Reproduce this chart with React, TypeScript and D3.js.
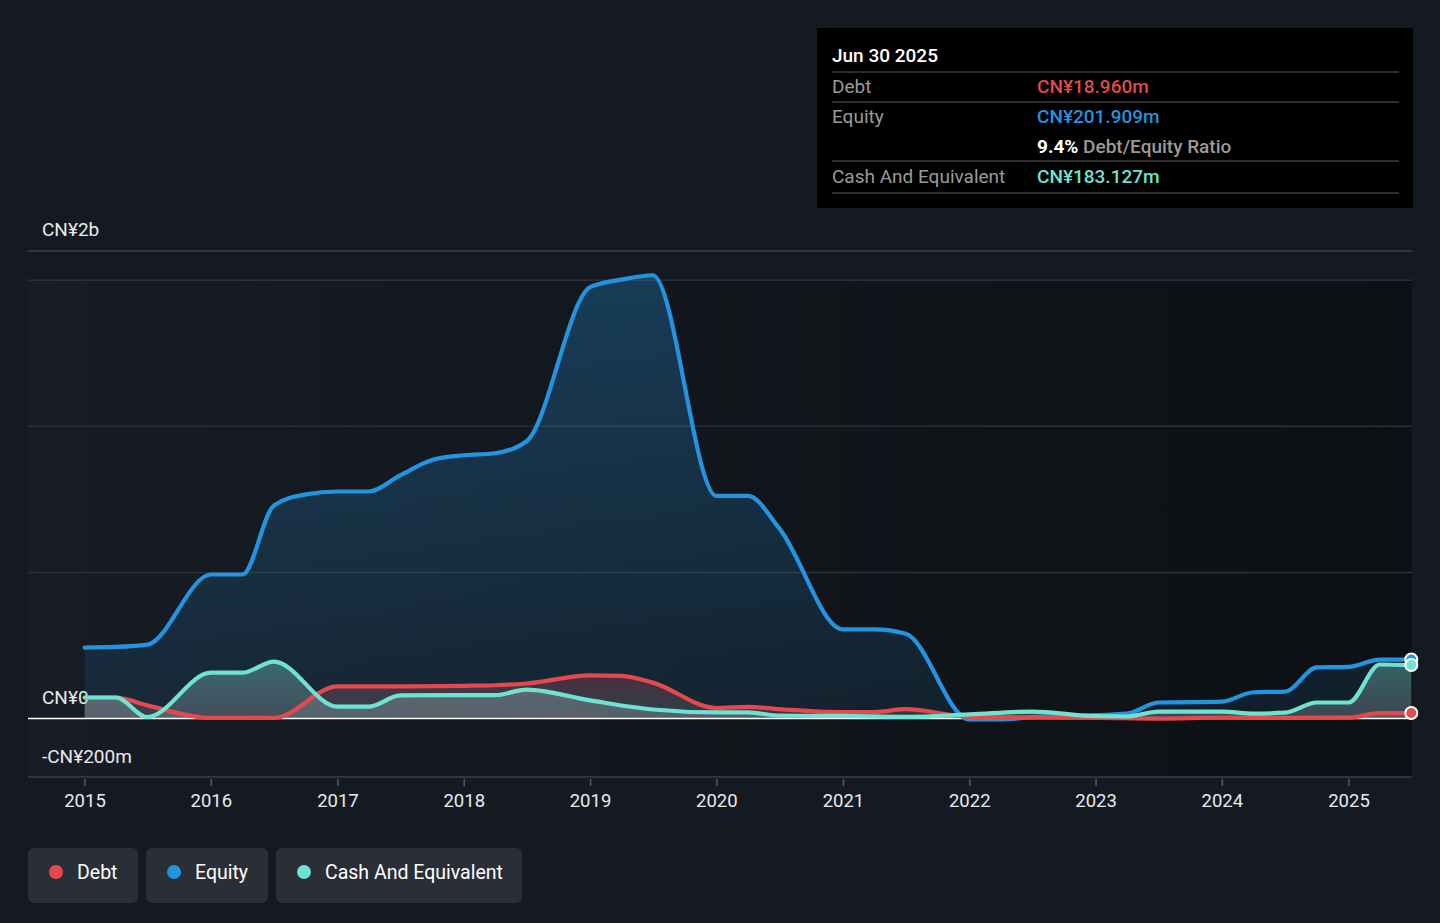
import React, { useMemo } from "react";
import * as d3 from "d3";

type Pt = [string, number];

// CN¥ millions
const EQUITY: Pt[] = [
  ["2014-12-31", 243], ["2015-03-31", 245], ["2015-06-30", 253], ["2015-12-31", 493],
  ["2016-03-31", 493], ["2016-06-30", 729], ["2016-09-30", 767], ["2016-12-31", 777],
  ["2017-03-31", 777], ["2017-06-30", 832], ["2017-09-30", 885], ["2017-12-31", 901],
  ["2018-03-31", 908], ["2018-06-30", 949], ["2018-12-31", 1476], ["2019-03-31", 1502],
  ["2019-06-30", 1517], ["2019-12-31", 762], ["2020-03-31", 762], ["2020-06-30", 650],
  ["2020-12-31", 305], ["2021-03-31", 305], ["2021-06-30", 290], ["2021-12-31", -3],
  ["2022-03-31", -3], ["2022-06-30", 5], ["2022-12-31", 12], ["2023-03-31", 17],
  ["2023-06-30", 55], ["2023-12-31", 58], ["2024-03-31", 90], ["2024-06-30", 92],
  ["2024-09-30", 175], ["2024-12-31", 177], ["2025-03-31", 202], ["2025-06-30", 201.909],
];

const DEBT: Pt[] = [
  ["2014-12-31", 72], ["2015-03-31", 72], ["2015-06-30", 45], ["2015-12-31", 2],
  ["2016-03-31", 2], ["2016-06-30", 2], ["2016-12-31", 110], ["2017-06-30", 110],
  ["2017-12-31", 112], ["2018-03-31", 114], ["2018-06-30", 120], ["2018-12-31", 148],
  ["2019-03-31", 146], ["2019-06-30", 123], ["2019-12-31", 36], ["2020-03-31", 40],
  ["2020-06-30", 32], ["2020-12-31", 22], ["2021-03-31", 22], ["2021-06-30", 32],
  ["2021-12-31", 6], ["2022-06-30", 4], ["2022-12-31", 2], ["2023-06-30", 0],
  ["2023-12-31", 3], ["2024-06-30", 2], ["2024-12-31", 3], ["2025-03-31", 19],
  ["2025-06-30", 18.96],
];

const CASH: Pt[] = [
  ["2014-12-31", 72], ["2015-03-31", 72], ["2015-06-30", 5], ["2015-12-31", 157],
  ["2016-03-31", 157], ["2016-06-30", 195], ["2016-12-31", 41], ["2017-03-31", 41],
  ["2017-06-30", 79], ["2017-12-31", 80], ["2018-03-31", 80], ["2018-06-30", 99],
  ["2018-12-31", 62], ["2019-06-30", 31], ["2019-12-31", 21], ["2020-03-31", 21],
  ["2020-06-30", 10], ["2020-12-31", 9], ["2021-06-30", 6], ["2021-12-31", 14],
  ["2022-06-30", 24], ["2022-12-31", 8], ["2023-03-31", 7], ["2023-06-30", 24],
  ["2023-12-31", 24], ["2024-03-31", 17], ["2024-06-30", 20], ["2024-09-30", 55],
  ["2024-12-31", 55], ["2025-03-31", 185], ["2025-06-30", 183.127],
];

const YEARS = [2015, 2016, 2017, 2018, 2019, 2020, 2021, 2022, 2023, 2024, 2025];
const GRID = [500, 1000, 1500];
const Y_MIN = -200;
const Y_MAX = 1600;

const W = 1440;
const H = 923;
const PLOT = { left: 28, right: 1412, top: 251, bottom: 777 };

const BG = "#151a22";
const DEBT_COLOR = "#e5484d";
const EQUITY_COLOR = "#2394df";
const CASH_COLOR = "#6fe3d0";
const FONT = "Roboto, 'Noto Sans', sans-serif";

const parse = d3.timeParse("%Y-%m-%d");

const App: React.FC = () => {
  const x = useMemo(
    () =>
      d3
        .scaleTime()
        .domain([new Date(2015, 0, 1), new Date(2025, 0, 1)])
        .range([85, 1349]),
    []
  );
  const y = useMemo(
    () => d3.scaleLinear().domain([Y_MIN, Y_MAX]).range([PLOT.bottom, PLOT.top]),
    []
  );

  const series = useMemo(() => {
    const line = d3
      .line<Pt>()
      .x((d) => x(parse(d[0])!))
      .y((d) => y(d[1]))
      .curve(d3.curveMonotoneX);
    const area = d3
      .area<Pt>()
      .x((d) => x(parse(d[0])!))
      .y0(y(0))
      .y1((d) => y(d[1]))
      .curve(d3.curveMonotoneX);
    return [
      { key: "equity", data: EQUITY, color: EQUITY_COLOR },
      { key: "debt", data: DEBT, color: DEBT_COLOR },
      { key: "cash", data: CASH, color: CASH_COLOR },
    ].map((s) => ({
      ...s,
      line: line(s.data) ?? "",
      area: area(s.data) ?? "",
      last: s.data[s.data.length - 1],
    }));
  }, [x, y]);

  const legend = [
    { label: "Debt", color: DEBT_COLOR, x: 28, w: 110 },
    { label: "Equity", color: EQUITY_COLOR, x: 146, w: 122 },
    { label: "Cash And Equivalent", color: CASH_COLOR, x: 276, w: 246 },
  ];

  return (
    <div style={{ position: "absolute", left: 0, top: 0 }}>
      <svg width={W} height={H} style={{ display: "block", fontFamily: FONT }}>
        <defs>
          <linearGradient id="plotBg" x1="0" x2="1" y1="0" y2="0">
            <stop offset="0" stopColor="#171c25" />
            <stop offset="0.5" stopColor="#12161c" />
            <stop offset="1" stopColor="#0d1014" />
          </linearGradient>
          <linearGradient id="g-equity" gradientUnits="userSpaceOnUse" x1={0} x2={0} y1={y(1517)} y2={y(0)}>
            <stop offset="0" stopColor={EQUITY_COLOR} stopOpacity={0.3} />
            <stop offset="1" stopColor={EQUITY_COLOR} stopOpacity={0.1} />
          </linearGradient>
          <linearGradient id="g-debt" gradientUnits="userSpaceOnUse" x1={0} x2={0} y1={y(150)} y2={y(0)}>
            <stop offset="0" stopColor={DEBT_COLOR} stopOpacity={0.25} />
            <stop offset="1" stopColor="#c8ccd4" stopOpacity={0.15} />
          </linearGradient>
          <linearGradient id="g-cash" gradientUnits="userSpaceOnUse" x1={0} x2={0} y1={y(195)} y2={y(0)}>
            <stop offset="0" stopColor={CASH_COLOR} stopOpacity={0.35} />
            <stop offset="1" stopColor="#d0d6de" stopOpacity={0.22} />
          </linearGradient>
        </defs>

        <rect width={W} height={H} fill={BG} />
        <rect
          x={PLOT.left}
          y={y(1500)}
          width={PLOT.right - PLOT.left}
          height={PLOT.bottom - y(1500)}
          fill="url(#plotBg)"
        />

        {/* frame + grid */}
        <line x1={PLOT.left} x2={PLOT.right} y1={y(Y_MAX)} y2={y(Y_MAX)} stroke="#3a3f48" strokeWidth={1.5} />
        {GRID.map((g) => (
          <line key={g} x1={PLOT.left} x2={PLOT.right} y1={y(g)} y2={y(g)} stroke="#2b3038" strokeWidth={1.5} />
        ))}
        <line x1={PLOT.left} x2={PLOT.right} y1={PLOT.bottom} y2={PLOT.bottom} stroke="#3a3f48" strokeWidth={1.5} />

        {/* y labels */}
        <text x={42} y={y(Y_MAX) - 15} fontSize={19} fill="#e8eaed">CN¥2b</text>
        <text x={42} y={y(0) - 15} fontSize={19} fill="#e8eaed">CN¥0</text>
        <text x={42} y={y(Y_MIN) - 14} fontSize={19} fill="#e8eaed">-CN¥200m</text>

        {/* x axis */}
        {YEARS.map((yr) => {
          const px = x(new Date(yr, 0, 1));
          return (
            <g key={yr}>
              <line x1={px} x2={px} y1={PLOT.bottom + 2} y2={PLOT.bottom + 9} stroke="#555b64" strokeWidth={1.5} />
              <text x={px} y={807} textAnchor="middle" fontSize={18.5} fill="#e8eaed">
                {yr}
              </text>
            </g>
          );
        })}

        {/* areas */}
        {series.map((s) => (
          <path key={s.key + "-a"} d={s.area} fill={`url(#g-${s.key})`} />
        ))}

        {/* zero line */}
        <line x1={PLOT.left} x2={PLOT.right} y1={y(0)} y2={y(0)} stroke="#ffffff" strokeWidth={1.5} />

        {/* lines */}
        {series.map((s) => (
          <path
            key={s.key + "-l"}
            d={s.line}
            fill="none"
            stroke={s.color}
            strokeWidth={4.2}
            strokeLinejoin="round"
            strokeLinecap="round"
          />
        ))}

        {/* end markers */}
        {series.map((s) => (
          <circle
            key={s.key + "-c"}
            cx={x(parse(s.last[0])!)}
            cy={y(s.last[1])}
            r={6}
            fill={s.color}
            stroke="#ffffff"
            strokeWidth={2}
          />
        ))}

        {/* tooltip */}
        <g>
          <rect x={817} y={28} width={596} height={180} fill="#000000" />
          <text x={832} y={62} fontSize={19} fontWeight={500} fill="#ffffff">Jun 30 2025</text>
          {[72, 102, 161, 193].map((ly) => (
            <line key={ly} x1={832} x2={1399} y1={ly} y2={ly} stroke="#3d3d3d" strokeWidth={1.5} />
          ))}
          <text x={832} y={93} fontSize={19} fill="#9a9a9a">Debt</text>
          <text x={1037} y={93} fontSize={19} fontWeight={500} fill={DEBT_COLOR}>CN¥18.960m</text>
          <text x={832} y={123} fontSize={19} fill="#9a9a9a">Equity</text>
          <text x={1037} y={123} fontSize={19} fontWeight={500} fill={EQUITY_COLOR}>CN¥201.909m</text>
          <text x={1037} y={153} fontSize={19} fontWeight={500} fill="#9a9a9a">
            <tspan fill="#ffffff" fontWeight={700}>9.4%</tspan> Debt/Equity Ratio
          </text>
          <text x={832} y={183} fontSize={19} fill="#9a9a9a">Cash And Equivalent</text>
          <text x={1037} y={183} fontSize={19} fontWeight={500} fill={CASH_COLOR}>CN¥183.127m</text>
        </g>

        {/* legend */}
        {legend.map((l) => (
          <g key={l.label}>
            <rect x={l.x} y={848} width={l.w} height={55} rx={6} fill="#2a2e36" />
            <circle cx={l.x + 28} cy={872} r={7} fill={l.color} />
            <text x={l.x + 49} y={879} fontSize={19.5} fill="#ffffff">
              {l.label}
            </text>
          </g>
        ))}
      </svg>
    </div>
  );
};

export default App;
